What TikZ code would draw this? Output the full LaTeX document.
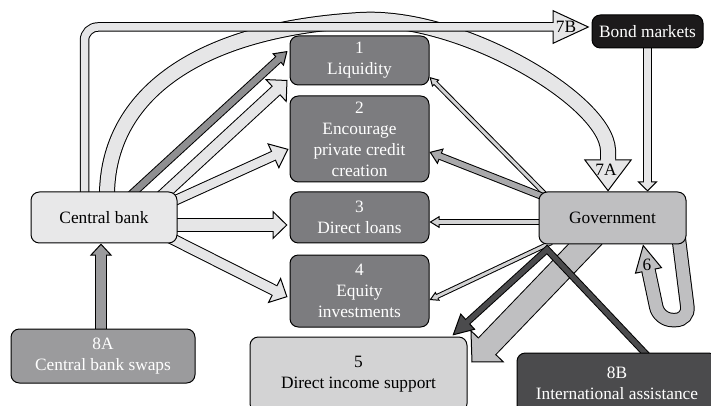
\documentclass[tikz,border=0pt]{standalone}
\usepackage{fontspec}
\setmainfont{Liberation Serif}
\usetikzlibrary{arrows.meta,calc}

\definecolor{cbgray}{HTML}{E8E8E9}
\definecolor{boxgray}{HTML}{7C7C7F}
\definecolor{incgray}{HTML}{D3D3D4}
\definecolor{govgray}{HTML}{BFBFC1}
\definecolor{bondblack}{HTML}{1C1A1B}
\definecolor{swapgray}{HTML}{9B9B9D}
\definecolor{intlgray}{HTML}{4B4B4D}
\definecolor{flowlight}{HTML}{E6E6E7}
\definecolor{flowthin}{HTML}{D2D2D3}
\definecolor{flowmid}{HTML}{A9A9AB}
\definecolor{flowdark}{HTML}{8F8F91}
\definecolor{flowblack}{HTML}{4B4B4D}

\pgfdeclarelayer{background}
\pgfsetlayers{background,main}

\tikzset{
  box/.style={draw=black, line width=0.6pt, rounded corners=5pt, align=center,
    inner sep=0pt, font=\fontsize{10.4}{12.6}\selectfont},
  darkbox/.style={box, fill=boxgray, text=white, minimum width=83.4pt},
  tag/.style={inner sep=0pt, font=\fontsize{10.4}{12.6}\selectfont}
}

% block arrow: [path options]{fill}{shaft px}{head length px}{head width px}{path}
\newcommand\flowarrow[6][]{%
  \pgfmathsetmacro\fw{#3*0.6}%
  \pgfmathsetmacro\fo{#3*0.6+1.2}%
  \pgfmathsetmacro\hl{#4*0.6}%
  \pgfmathsetmacro\hw{#5*0.6}%
  \pgfmathsetmacro\hs{#4*0.6-1.5}%
  \draw[#1, line width=\fo pt, -{Triangle[length=\hl pt,width=\hw pt,fill=#2,line width=0.6pt]}] #6;
  \draw[#1, line width=\fw pt, draw=#2, shorten >=\hs pt] #6;}

\begin{document}
\begin{tikzpicture}[x=0.6pt,y=-0.6pt]
\useasboundingbox (0,0) rectangle (711,406);

% boxes
\node[box, fill=cbgray, minimum width=87.6pt, minimum height=30.6pt] (cb) at (104,217.5) {Central bank};
\node[darkbox, minimum height=29.4pt] (liq) at (359.5,60.5) {1\\Liquidity};
\node[darkbox, minimum height=51.6pt] (enc) at (359.5,139) {2\\Encourage\\private credit\\creation};
\node[darkbox, minimum height=30.6pt] (loans) at (359.5,217.5) {3\\Direct loans};
\node[darkbox, minimum height=43.2pt] (equity) at (359.5,291) {4\\Equity\\investments};
\node[box, fill=incgray, minimum width=130.2pt, minimum height=45pt] (income) at (358.5,374.5) {5\\Direct income support};
\node[box, fill=govgray, minimum width=88.2pt, minimum height=31.2pt] (gov) at (612.5,218) {Government};
\node[box, fill=bondblack, text=white, minimum width=66.6pt, minimum height=19.8pt] (bond) at (647.5,31.5) {Bond markets};
\node[box, fill=swapgray, text=white, minimum width=110.4pt, minimum height=32.4pt] (swaps) at (103,356) {8A\\Central bank swaps};
\node[box, fill=intlgray, text=white, minimum width=120pt, minimum height=36pt] (intl) at (617,383) {8B\\International assistance};

\begin{pgfonlayer}{background}
% central bank side
\flowarrow{flowlight}{14}{32}{48}{($(cb.north)+(3,8)$) .. controls (105,100) and (190,30) .. (360,20) .. controls (460,14) and (606,100) .. (608,150) -- ($(gov.north)+(-4.5,0)$)}
\flowarrow[rounded corners=8pt]{flowlight}{7.5}{37}{34}{($(cb.north)+(-19.5,8)$) |- ($(bond.west)+(-2,-4.5)$)}
\flowarrow{flowdark}{6.5}{13}{17}{($(cb.north)+(24,6)$) -- ($(liq.west)+(-2,-9.5)$)}
\flowarrow{flowlight}{10.5}{16}{32}{($(cb.north)+(57,5.4)$) -- ($(liq.west)+(-2,19.5)$)}
\flowarrow{flowlight}{8.5}{17}{28}{($(cb.north east)+(-7,11)$) -- ($(enc.west)+(-1,10)$)}
\flowarrow{flowlight}{12.5}{15}{29}{($(cb.east)+(-8,7.5)$) -- ($(loans.west)+(-2,7.5)$)}
\flowarrow{flowlight}{9.5}{15}{29}{($(cb.east)+(-9,19.5)$) -- ($(equity.west)+(-2,6)$)}
\flowarrow{swapgray}{10.5}{12}{22}{($(swaps.north)+(-2,8)$) -- ($(cb.south)+(-3,0)$)}
% government side
\flowarrow{flowthin}{3}{9}{10}{($(gov.north west)+(9,5)$) -- ($(liq.east)+(0,16.5)$)}
\flowarrow{flowmid}{5.5}{12}{17}{($(gov.west)+(13,-18)$) -- ($(enc.east)+(0,13)$)}
\flowarrow{flowthin}{4.5}{10}{12}{($(gov.west)+(8,4)$) -- ($(loans.east)+(0,4.5)$)}
\flowarrow{flowthin}{3}{9}{10}{($(gov.south west)+(13,-2)$) -- ($(equity.east)+(0,9)$)}
\flowarrow{govgray}{23}{23}{47}{($(gov.south)+(-18,-10)$) -- ($(income.north east)+(4,26)$)}
\flowarrow{flowblack}{5}{21}{22}{($(intl.north)+(35,8)$) -- ($(gov.south west)+(8.5,5)$) -- ($(income.north east)+(-15,-1)$)}
\flowarrow[rounded corners=8pt]{govgray}{12.5}{27}{28}{($(gov.south)+(66,-8)$) -- (689,320) -- (659,320) -- ($(gov.south)+(30.5,0)$)}
\flowarrow{flowlight}{6.5}{10}{20}{($(bond.south)+(0,-5)$) -- (bond.south |- gov.north)}
\end{pgfonlayer}

% labels on the arrow heads
\node[tag] (l7b) at (566,27) {7B};
\node[tag] (l7a) at (606,170) {7A};
\node[tag] (l6) at (647,265) {6};
\end{tikzpicture}
\end{document}
